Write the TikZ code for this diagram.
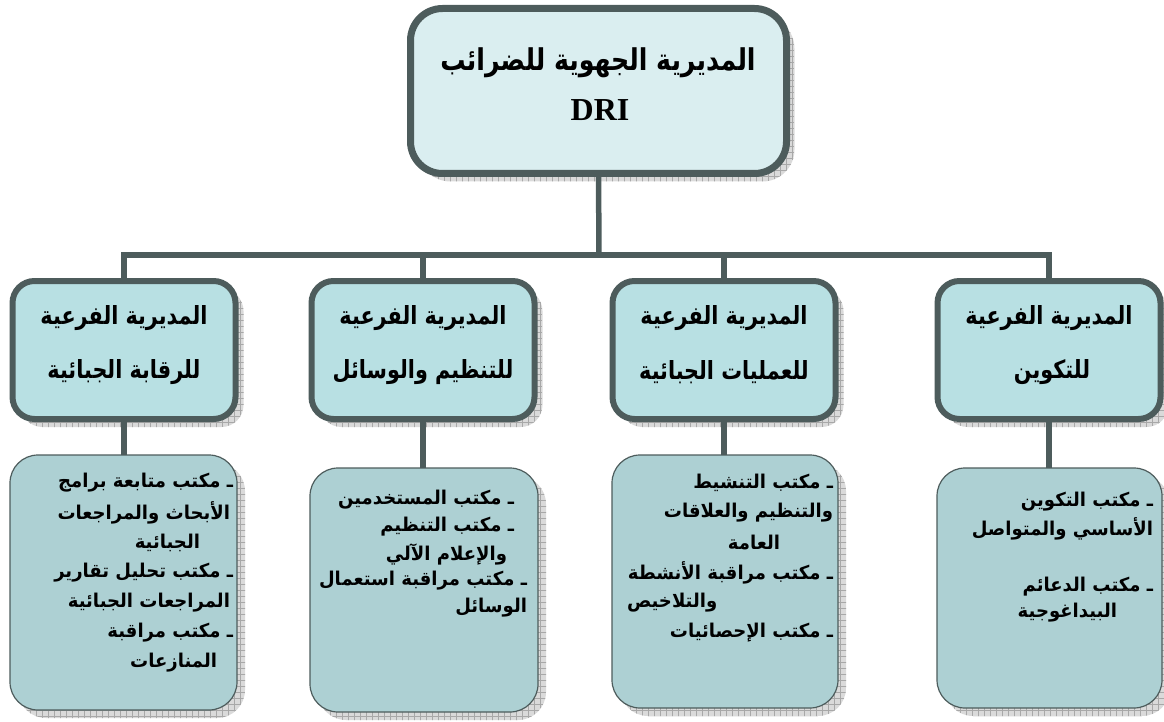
\documentclass[tikz,border=0pt]{standalone}
\usepackage{fontspec}
\setmainfont{Liberation Serif}
\newfontfamily\artop[Script=Arabic,FakeStretch=0.84]{DejaVu Sans}
\newfontfamily\armid[Script=Arabic,FakeStretch=0.83]{DejaVu Sans}
\newfontfamily\arbot[Script=Arabic,FakeStretch=0.95]{DejaVu Sans}
\TeXXeTstate=1
\usetikzlibrary{shadows,patterns.meta}
\definecolor{edge}{HTML}{4D5C5C}
\definecolor{topfill}{HTML}{DAEEF0}
\definecolor{midfill}{HTML}{B8E0E3}
\definecolor{botfill}{HTML}{ADD0D3}
\definecolor{shadowbg}{HTML}{DADADA}
\definecolor{shadowln}{HTML}{A8A8A8}
\tikzset{
  every node/.style={inner sep=0pt, outer sep=0pt},
  shd/.style={
    general shadow={shadow xshift=8pt, shadow yshift=-8pt, fill=shadowbg},
    general shadow={shadow xshift=8pt, shadow yshift=-8pt, pattern={Lines[distance=6pt,angle=0,line width=0.6pt]}, pattern color=shadowln},
    general shadow={shadow xshift=8pt, shadow yshift=-8pt, pattern={Lines[distance=6pt,angle=90,line width=0.6pt]}, pattern color=shadowln}},
  topbox/.style={shd, draw=edge, line width=7pt, fill=topfill, rounded corners=32pt, minimum width=376pt, minimum height=165pt},
  midbox/.style={shd, draw=edge, line width=6pt, fill=midfill, rounded corners=22pt, minimum width=223pt, minimum height=138pt},
  botbox/.style={shd, draw=edge, line width=1.2pt, fill=botfill, rounded corners=28pt},
  conn/.style={draw=edge, line width=5.5pt, line join=miter},
  toptxt/.style={font=\artop\bfseries\fontsize{30}{34}\selectfont},
  drtxt/.style={font=\bfseries\fontsize{32}{36}\selectfont},
  midtxt/.style={font=\armid\bfseries\fontsize{25}{29}\selectfont},
  bt/.style={font=\arbot\bfseries\fontsize{19}{23}\selectfont, anchor=east},
  btl/.style={font=\arbot\bfseries\fontsize{19}{23}\selectfont, anchor=west},
}
\begin{document}
\begin{tikzpicture}[x=1pt,y=-1pt]
\useasboundingbox (0,0) rectangle (1164,722);
% top
\node[topbox] (top) at (598.5,91) {};
\node[toptxt] (topa) at (598,63) {\beginR المديرية الجهوية للضرائب\endR};
\node[drtxt] (topb) at (600,110) {DRI};
% mid boxes
\node[midbox] (m1) at (124,350) {};
\node[midbox] (m2) at (423,350) {};
\node[midbox] (m3) at (724,350) {};
\node[midbox] (m4) at (1049,350) {};
\node[midtxt] (m1a) at (124,318) {\beginR المديرية الفرعية\endR};
\node[midtxt] (m1b) at (124,372) {\beginR للرقابة الجبائية\endR};
\node[midtxt] (m2a) at (423,318) {\beginR المديرية الفرعية\endR};
\node[midtxt] (m2b) at (423,372) {\beginR للتنظيم والوسائل\endR};
\node[midtxt] (m3a) at (724,318) {\beginR المديرية الفرعية\endR};
\node[midtxt] (m3b) at (724,372) {\beginR للعمليات الجبائية\endR};
\node[midtxt] (m4a) at (1049,318) {\beginR المديرية الفرعية\endR};
\node[midtxt] (m4b) at (1052,372) {\beginR للتكوين\endR};
% bottom boxes
\node[botbox, minimum width=227pt, minimum height=255pt] (b1) at (123.5,582.5) {};
\node[botbox, minimum width=228pt, minimum height=244pt] (b2) at (424,590) {};
\node[botbox, minimum width=226pt, minimum height=253pt] (b3) at (725,581.5) {};
\node[botbox, minimum width=225pt, minimum height=240pt] (b4) at (1049.5,588) {};
% box 1 text
\node[bt] (t11) at (233,483) {\beginR ـ مكتب متابعة برامج\endR};
\node[bt] (t12) at (230,513) {\beginR الأبحاث والمراجعات\endR};
\node[bt] (t13) at (200,543) {\beginR الجبائية\endR};
\node[bt] (t14) at (233,573) {\beginR ـ مكتب تحليل تقارير\endR};
\node[bt] (t15) at (230,603) {\beginR المراجعات الجبائية\endR};
\node[bt] (t16) at (233,633) {\beginR ـ مكتب مراقبة\endR};
\node[bt] (t17) at (217,663) {\beginR المنازعات\endR};
% box 2 text
\node[bt] (t21) at (514,500) {\beginR ـ مكتب المستخدمين\endR};
\node[bt] (t22) at (514,527) {\beginR ـ مكتب التنظيم\endR};
\node[bt] (t23) at (507,554) {\beginR والإعلام الآلي\endR};
\node[bt] (t24) at (527,581) {\beginR ـ مكتب مراقبة استعمال\endR};
\node[bt] (t25) at (527,608) {\beginR الوسائل\endR};
% box 3 text
\node[bt] (t31) at (833,483) {\beginR ـ مكتب التنشيط\endR};
\node[bt] (t32) at (833,513) {\beginR والتنظيم والعلاقات\endR};
\node[bt] (t33) at (780,543) {\beginR العامة\endR};
\node[bt] (t34) at (833,573) {\beginR ـ مكتب مراقبة الأنشطة\endR};
\node[btl] (t35) at (627,603) {\beginR والتلاخيص\endR};
\node[bt] (t36) at (833,633) {\beginR ـ مكتب الإحصائيات\endR};
% box 4 text
\node[bt] (t41) at (1153,502) {\beginR ـ مكتب التكوين\endR};
\node[bt] (t42) at (1153,529) {\beginR الأساسي والمتواصل\endR};
\node[bt] (t43) at (1153,587) {\beginR ـ مكتب الدعائم\endR};
\node[bt] (t44) at (1117,613) {\beginR البيداغوجية\endR};
% connectors
\coordinate (bus) at (599,255);
\draw[conn] (top.south) -- (bus);
\draw[conn] (m1.north) -- (m1.north |- bus) -- (m4.north |- bus) -- (m4.north);
\draw[conn] (m2.north) -- (m2.north |- bus);
\draw[conn] (m3.north) -- (m3.north |- bus);
\draw[conn] (m1.south) -- (m1.south |- b1.north);
\draw[conn] (m2.south) -- (m2.south |- b2.north);
\draw[conn] (m3.south) -- (m3.south |- b3.north);
\draw[conn] (m4.south) -- (m4.south |- b4.north);
\end{tikzpicture}
\end{document}
